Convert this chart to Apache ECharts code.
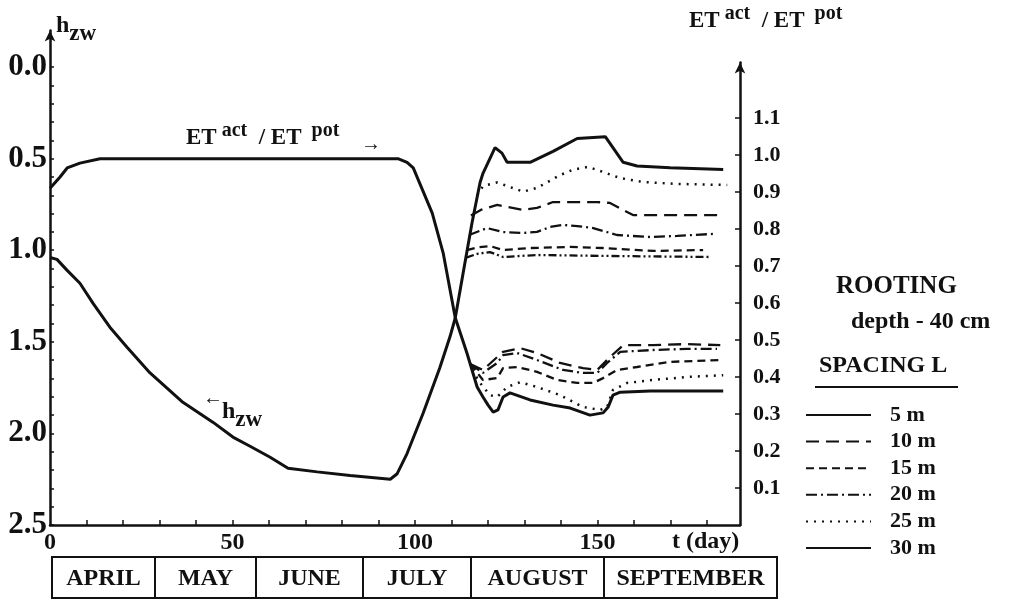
<!DOCTYPE html>
<html><head><meta charset="utf-8">
<script src="https://cdn.jsdelivr.net/npm/echarts@6/dist/echarts.min.js"></script>
<style>html,body{margin:0;padding:0;background:#fff}#c{width:1022px;height:600px}</style>
</head><body><div id="c"></div>
<script>
// ---- data (day, value) ----
// water table depth h_zw (m), left axis
const hzw5 = [[0,1.04],[1.9,1.05],[4.7,1.11],[8.2,1.18],[11.8,1.29],[16.4,1.42],[21.1,1.53],[27.4,1.67],[36.4,1.83],[44.7,1.94],[50.1,2.02],[54.8,2.07],[60.3,2.13],[65.2,2.19],[73.2,2.21],[82.2,2.23],[93.2,2.25],[95.1,2.22],[97.8,2.11],[102.2,1.89],[106.8,1.64],[109.6,1.47],[111,1.37],[113.2,1.12],[115.6,0.85],[117.8,0.63],[118.6,0.58],[121.9,0.44],[123.8,0.47],[125.2,0.52],[131.5,0.52],[137.8,0.46],[144.4,0.39],[152.1,0.38],[157,0.52],[160.8,0.54],[169.9,0.55],[184.4,0.56]];
const hzw25 = [[117,0.70],[118.6,0.65],[122.5,0.63],[126,0.655],[129.6,0.68],[133.4,0.66],[139.7,0.59],[143.3,0.56],[147.4,0.545],[151.5,0.573],[156.2,0.606],[162.5,0.628],[171.8,0.638],[185.5,0.644]];
const hzw10 = [[115.3,0.81],[118,0.78],[122.5,0.753],[129.6,0.78],[133.4,0.769],[137.8,0.737],[149.9,0.737],[153.4,0.742],[159.7,0.808],[166.3,0.808],[184.4,0.808]];
const hzw20 = [[114.8,0.917],[119.7,0.879],[124.1,0.901],[129.6,0.906],[133.4,0.90],[137,0.873],[140.5,0.862],[144.4,0.868],[148.8,0.879],[155.3,0.917],[164.4,0.928],[171.8,0.922],[181.6,0.911]];
const hzw15 = [[114.2,1.0],[117,0.985],[120.5,0.977],[124.1,0.999],[131.5,0.988],[142.5,0.982],[151.5,0.988],[165.2,1.004],[178.9,0.999]];
const hzw30 = [[114,1.04],[117,1.02],[120.5,1.01],[124.1,1.037],[133.4,1.026],[151.5,1.031],[180.8,1.037]];
// ET act / ET pot, right axis
const et30 = [[0,0.91],[2.7,0.94],[4.7,0.965],[8.2,0.978],[13.7,0.99],[95.3,0.99],[97.8,0.98],[99.5,0.965],[104.7,0.843],[107.7,0.735],[111,0.56],[114.2,0.465],[117,0.373],[118.6,0.346],[120,0.324],[121.4,0.305],[122.7,0.311],[124.1,0.346],[126,0.357],[131.5,0.338],[137.8,0.324],[142.5,0.316],[147.9,0.297],[151.5,0.303],[152.9,0.319],[154.2,0.351],[156.2,0.359],[164.4,0.362],[184.4,0.362]];
const et10 = [[115.1,0.435],[118.6,0.419],[122.5,0.454],[124.1,0.468],[128.8,0.478],[133.4,0.465],[139.7,0.438],[146,0.424],[149.9,0.419],[153.4,0.454],[157,0.486],[165.2,0.486],[174.5,0.489],[183.6,0.486]];
const et20 = [[115.1,0.435],[118.6,0.411],[122.5,0.438],[124.1,0.459],[127.9,0.465],[133.4,0.446],[140.5,0.419],[146,0.411],[149.9,0.411],[152.6,0.438],[156.2,0.468],[165.2,0.473],[174.5,0.476],[182.7,0.476]];
const et15 = [[115.1,0.435],[118.6,0.392],[122.5,0.397],[124.1,0.424],[127.9,0.427],[133.4,0.414],[138.9,0.392],[144.4,0.384],[148.8,0.384],[151.5,0.397],[155.3,0.419],[160.8,0.427],[169.9,0.441],[184.4,0.446]];
const et25 = [[115.6,0.419],[117.8,0.384],[120.5,0.351],[122.5,0.346],[125.2,0.373],[128.8,0.386],[133.4,0.373],[139.7,0.351],[146,0.319],[150.7,0.311],[152.6,0.319],[154.2,0.365],[158.1,0.384],[165.2,0.392],[174.5,0.400],[184.4,0.405]];

// ---- ticks / labels ----
const xTicks = [10,20,30,40,50,60,70,80,90,100,110,120,130,140,150,160,170,180];
const xLabels = [0,50,100,150];
const leftTicks = [0,0.1,0.2,0.3,0.4,0.5,0.6,0.7,0.8,0.9,1.0,1.1,1.2,1.3,1.4,1.5,1.6,1.7,1.8,1.9,2.0,2.1,2.2,2.3,2.4,2.5];
const leftLabels = [0,0.5,1.0,1.5,2.0,2.5];
const rightTicks = [0.1,0.2,0.3,0.4,0.5,0.6,0.7,0.8,0.9,1.0,1.1];
const spacings = ['5 m','10 m','15 m','20 m','25 m','30 m'];
const months = ['APRIL','MAY','JUNE','JULY','AUGUST','SEPTEMBER'];
const monthEdges = [52,155,256,363,471,604,777];

const F = 'Liberation Serif';
const BLACK = '#111';
const DASH = {solid:'solid', long:[13,7], med:[8,5], dashdot:[11,4,2,4], dot:[2,6], ddot:[8,3,2,3,2,3]};

function ser(name, data, grid, dash, width){
  return {name:name, type:'line', data:data, xAxisIndex:grid, yAxisIndex:grid,
    symbol:'none', smooth:false, silent:true, animation:false,
    lineStyle:{color:BLACK, width:width, type:dash}, itemStyle:{color:BLACK}};
}

const graphic = [];
// month table
for (let i=0;i<months.length;i++){
  graphic.push({type:'rect', shape:{x:monthEdges[i], y:557, width:monthEdges[i+1]-monthEdges[i], height:41},
    style:{fill:'none', stroke:BLACK, lineWidth:2}});
  graphic.push({type:'text', x:(monthEdges[i]+monthEdges[i+1])/2, y:579,
    style:{text:months[i], font:'bold 24px '+F, fill:BLACK, textAlign:'center', textVerticalAlign:'middle'}});
}
const rich = {
  m:{font:'bold 23px '+F, fill:BLACK, verticalAlign:'bottom', lineHeight:30},
  s:{font:'bold 20px '+F, fill:BLACK, verticalAlign:'bottom', lineHeight:30, padding:[0,0,9,0]},
  h:{font:'bold 24px '+F, fill:BLACK, verticalAlign:'top', lineHeight:34},
  z:{font:'bold 23px '+F, fill:BLACK, verticalAlign:'top', lineHeight:34, padding:[9,0,0,0]}
};
const etText = '{m|ET}{s| act}{m|  / ET}{s|  pot}';
graphic.push({type:'text', x:186, y:120, style:{text:etText, rich:rich}});
graphic.push({type:'text', x:361, y:135, style:{text:'→', font:'bold 20px '+F, fill:BLACK}});
graphic.push({type:'text', x:203, y:389, style:{text:'←', font:'bold 20px '+F, fill:BLACK}});
graphic.push({type:'text', x:222, y:400, style:{text:'{h|h}{z|zw}', rich:rich}});
graphic.push({type:'text', x:56, y:14, style:{text:'{h|h}{z|zw}', rich:rich}});
graphic.push({type:'text', x:689, y:3, style:{text:etText, rich:rich}});
graphic.push({type:'text', x:836, y:274, style:{text:'ROOTING', font:'bold 25px '+F, fill:BLACK}});
graphic.push({type:'text', x:851, y:310, style:{text:'depth - 40 cm', font:'bold 24px '+F, fill:BLACK}});
graphic.push({type:'text', x:819, y:354, style:{text:'SPACING L', font:'bold 24px '+F, fill:BLACK}});
graphic.push({type:'line', shape:{x1:815, y1:387, x2:958, y2:387}, style:{stroke:BLACK, lineWidth:2}});
graphic.push({type:'text', x:672, y:530, style:{text:'t (day)', font:'bold 24px '+F, fill:BLACK}});

const axisLineStyle = {color:BLACK, width:2.5};
const option = {
  backgroundColor:'#fff',
  animation:false,
  grid:[{left:50, right:282, top:30.4, bottom:75}, {left:50, right:282, top:62.5, bottom:75}],
  xAxis:[
    {type:'value', gridIndex:0, min:0, max:189, position:'bottom', splitLine:{show:false},
     axisLine:{onZero:false, lineStyle:axisLineStyle},
     axisTick:{inside:true, length:5, customValues:xTicks, lineStyle:{color:BLACK, width:1.5}},
     axisLabel:{customValues:xLabels, color:BLACK, fontFamily:F, fontWeight:'bold', fontSize:24, margin:6}},
    {type:'value', gridIndex:1, min:0, max:189, position:'bottom', show:false, axisLine:{onZero:false}}
  ],
  yAxis:[
    {type:'value', gridIndex:0, inverse:true, min:-0.2, max:2.5, position:'left', splitLine:{show:false},
     axisLine:{show:true, onZero:false, lineStyle:axisLineStyle, symbol:['none','arrow'], symbolSize:[8,11]},
     axisTick:{inside:true, length:4, customValues:leftTicks, lineStyle:{color:BLACK, width:1.5}},
     axisLabel:{customValues:leftLabels, formatter:v=>Number(v).toFixed(1), color:BLACK, fontFamily:F, fontWeight:'bold', fontSize:31, margin:3}},
    {type:'value', gridIndex:1, min:0, max:1.25, position:'right', splitLine:{show:false},
     axisLine:{show:true, onZero:false, lineStyle:axisLineStyle, symbol:['none','arrow'], symbolSize:[8,11]},
     axisTick:{inside:true, length:5, customValues:rightTicks, lineStyle:{color:BLACK, width:1.5}},
     axisLabel:{customValues:rightTicks, formatter:v=>Number(v).toFixed(1), color:BLACK, fontFamily:F, fontWeight:'bold', fontSize:22, margin:13}}
  ],
  legend:{data:spacings, orient:'vertical', left:800, top:399, itemWidth:65, itemHeight:14, itemGap:4.6,
    selectedMode:false,
    itemStyle:{opacity:0, borderWidth:0},
    textStyle:{color:BLACK, fontFamily:F, fontWeight:'bold', fontSize:22, lineHeight:22, padding:[0,0,0,14]}},
  series:[
    ser('5 m', hzw5, 0, DASH.solid, 3),
    ser('30 m', et30, 1, DASH.solid, 3),
    ser('10 m', hzw10, 0, DASH.long, 2.3),
    ser('15 m', hzw15, 0, DASH.med, 2.3),
    ser('20 m', hzw20, 0, DASH.dashdot, 2.3),
    ser('25 m', hzw25, 0, DASH.dot, 2.5),
    ser('30 m', hzw30, 0, DASH.ddot, 2.3),
    ser('10 m', et10, 1, DASH.long, 2.3),
    ser('20 m', et20, 1, DASH.dashdot, 2.3),
    ser('15 m', et15, 1, DASH.med, 2.3),
    ser('25 m', et25, 1, DASH.dot, 2.5)
  ],
  graphic:graphic
};
echarts.init(document.getElementById('c'), null, {renderer:'canvas'}).setOption(option);
</script></body></html>
